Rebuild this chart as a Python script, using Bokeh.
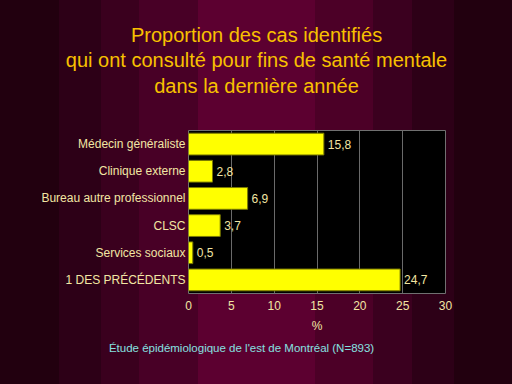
from bokeh.plotting import figure
from bokeh.models import (ColumnDataSource, FactorRange, LabelSet, InlineStyleSheet,
                          FixedTicker, LinearAxis)
from bokeh.embed import file_html
from bokeh.resources import INLINE
from bokeh.core.properties import value

categories = ["Médecin généraliste", "Clinique externe", "Bureau autre professionnel",
              "CLSC", "Services sociaux", "1 DES PRÉCÉDENTS"]
values = [15.8, 2.8, 6.9, 3.7, 0.5, 24.7]
value_labels = ["15,8", "2,8", "6,9", "3,7", "0,5", "24,7"]
x_ticks = [0, 5, 10, 15, 20, 25, 30]
title_lines = ["Proportion des cas identifiés",
               "qui ont consulté pour fins de santé mentale",
               "dans la dernière année"]
footer = "Étude épidémiologique de l'est de Montréal (N=893)"
x_label = "%"

FONT = "Liberation Sans"
PALE = "#f2e6a4"

stripes = [(0, "#22000f"), (59, "#2d0017"), (101, "#3a001e"), (139, "#480026"),
           (198, "#5c0030"), (315, "#4c0027"), (373, "#3b001f"), (412, "#2d0017"),
           (454, "#22000f")]
stops = []
for i, (pos, col) in enumerate(stripes):
    end = stripes[i + 1][0] if i + 1 < len(stripes) else 512
    stops.append(f"{col} {pos}px, {col} {end}px")
css = ":host { background: linear-gradient(to right, " + ", ".join(stops) + "); }"

p = figure(width=512, height=384, output_backend="svg", toolbar_location=None,
           title=None,
           y_range=FactorRange(factors=list(reversed(categories)), range_padding=0),
           x_range=(0, 30),
           min_border_left=188, min_border_right=67, min_border_top=130, min_border_bottom=91)
p.stylesheets = [InlineStyleSheet(css=css)]
p.border_fill_alpha = 0
p.background_fill_color = "black"
p.outline_line_color = "#707070"
p.outline_line_width = 1

src = ColumnDataSource(dict(cat=categories, val=values, lab=value_labels))
p.hbar(y="cat", left=0, right="val", height=0.8, source=src,
       fill_color="#ffff00", line_color="#7a7a00", line_width=1)

p.add_layout(LabelSet(x="val", y="cat", text="lab", source=src, x_offset=4,
                      text_baseline="middle", text_font=value(FONT),
                      text_font_size="12px", text_color=PALE))

p.xgrid.grid_line_color = "#6a6a6a"
p.xgrid.ticker = FixedTicker(ticks=x_ticks)
p.ygrid.grid_line_color = None

p.xaxis.ticker = FixedTicker(ticks=x_ticks)
p.xaxis.axis_line_color = None
p.xaxis.major_tick_line_color = None
p.xaxis.minor_tick_line_color = None
p.xaxis.major_tick_out = 0
p.xaxis.major_tick_in = 0
p.xaxis.major_label_standoff = 7
p.xaxis.major_label_text_font = FONT
p.xaxis.major_label_text_font_size = "12px"
p.xaxis.major_label_text_color = PALE
p.xaxis.axis_label = x_label
p.xaxis.axis_label_text_font = FONT
p.xaxis.axis_label_text_font_size = "12px"
p.xaxis.axis_label_text_font_style = "normal"
p.xaxis.axis_label_text_color = PALE
p.xaxis.axis_label_standoff = 6

nb = "\u00a0"
zw = "\u200b"
p.yaxis.major_label_overrides = {"Clinique externe": "Clinique externe" + nb * 2 + zw,
                                 "Services sociaux": "Services sociaux" + nb + zw,
                                 "1 DES PRÉCÉDENTS": "1 DES PRÉCÉDENTS" + nb + zw}
p.yaxis.axis_line_color = None
p.yaxis.major_tick_line_color = None
p.yaxis.major_tick_out = 0
p.yaxis.major_tick_in = 0
p.yaxis.major_label_standoff = 3
p.yaxis.major_label_text_font = FONT
p.yaxis.major_label_text_font_size = "12px"
p.yaxis.major_label_text_color = PALE

# Title block: centred on the slide (x = 256 px -> data 7.94)
title_x = 7.94
title_axis = LinearAxis(ticker=FixedTicker(ticks=[title_x]),
                        major_label_overrides={title_x: "\n".join(title_lines)},
                        axis_line_color=None, major_tick_line_color=None,
                        minor_tick_line_color=None, major_tick_out=0, major_tick_in=0,
                        major_label_standoff=34,
                        major_label_text_font=FONT, major_label_text_font_size="20px",
                        major_label_text_line_height=1.15,
                        major_label_text_color="#f8c000", major_label_text_align="center")
p.add_layout(title_axis, "above")

# Footer: source note (centred at x = 241 px -> data 6.19)
foot_x = 6.19
foot_axis = LinearAxis(ticker=FixedTicker(ticks=[foot_x]),
                       major_label_overrides={foot_x: footer},
                       axis_line_color=None, major_tick_line_color=None,
                       minor_tick_line_color=None, major_tick_out=0, major_tick_in=0,
                       major_label_standoff=6,
                       major_label_text_font=FONT, major_label_text_font_size="11.5px",
                       major_label_text_color="#86e0e0")
p.add_layout(foot_axis, "below")

open("out.html", "w").write(file_html(p, INLINE))
